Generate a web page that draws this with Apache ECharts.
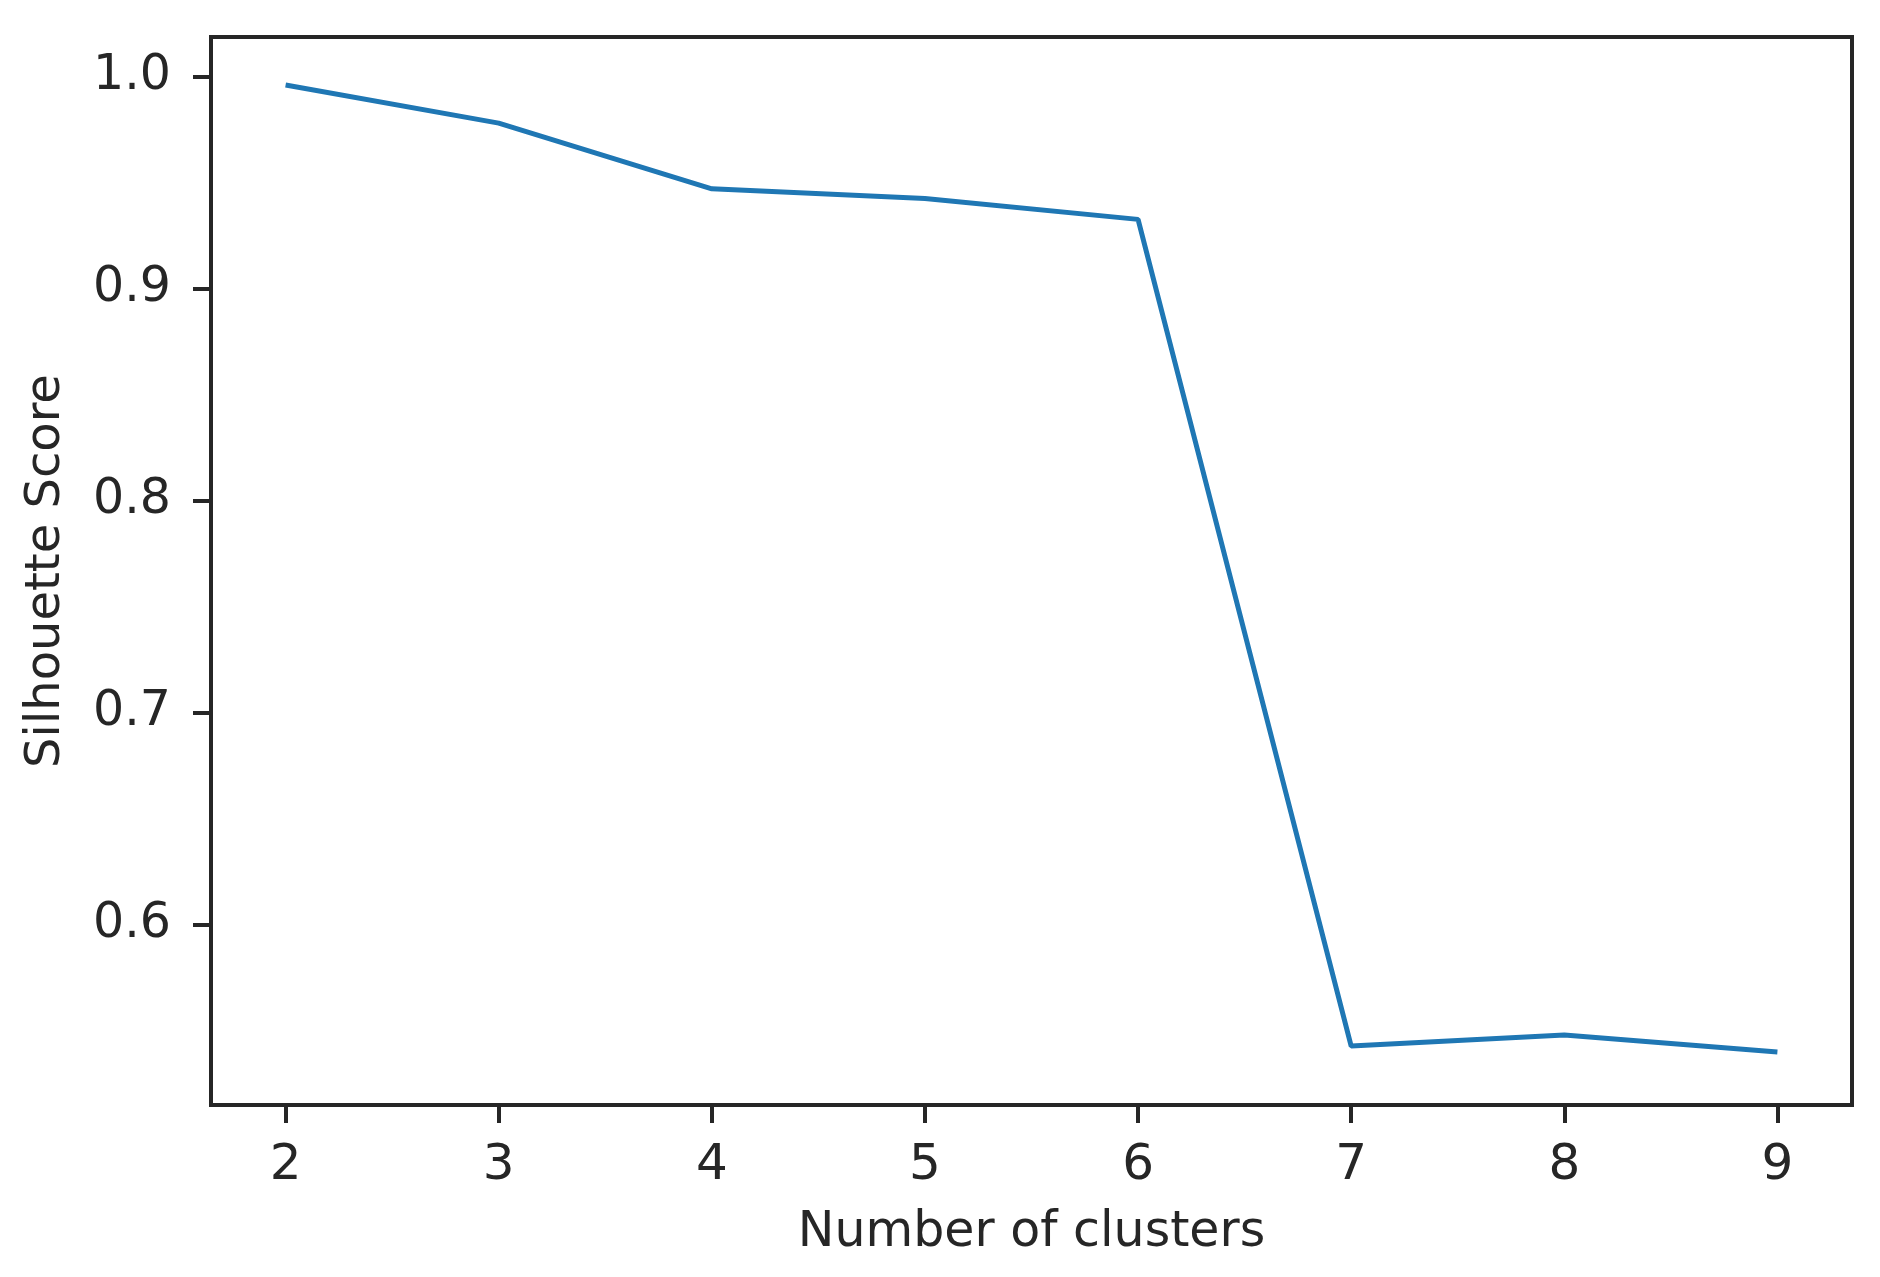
<!DOCTYPE html>
<html>
<head>
<meta charset="utf-8">
<script src="https://cdn.jsdelivr.net/npm/echarts@6/dist/echarts.min.js"></script>
<style>
  html, body { margin: 0; padding: 0; background: #fff; }
  #box1 { width: 1880px; height: 1277px; }
</style>
</head>
<body>
<div id="box1"></div>
<script>
var clusters = [2, 3, 4, 5, 6, 7, 8, 9];
var scores = [0.996, 0.978, 0.947, 0.9425, 0.9326, 0.5428, 0.548, 0.540];
var xTicks = [2, 3, 4, 5, 6, 7, 8, 9];
var yTicks = [0.6, 0.7, 0.8, 0.9, 1.0];

var points = clusters.map(function (c, i) { return [c, scores[i]]; });

var myChart1 = echarts.init(document.getElementById('box1'));
var textColor = '#262626';
var option = {
  backgroundColor: '#fff',
  animation: false,
  grid: {
    left: 211,
    right: 28,
    top: 37,
    bottom: 172,
    show: true,
    borderColor: '#262626',
    borderWidth: 4,
    backgroundColor: 'transparent'
  },
  xAxis: {
    type: 'value',
    min: 1.65,
    max: 9.35,
    name: 'Number of clusters',
    nameLocation: 'middle',
    nameGap: 104,
    nameTextStyle: { color: textColor, fontSize: 49, fontFamily: 'DejaVu Sans' },
    axisLine: { show: false },
    splitLine: { show: false },
    axisTick: {
      show: true,
      length: 18,
      lineStyle: { color: '#262626', width: 4 },
      customValues: xTicks
    },
    axisLabel: {
      color: textColor,
      fontSize: 50,
      fontFamily: 'DejaVu Sans',
      margin: 36,
      customValues: xTicks
    }
  },
  yAxis: {
    type: 'value',
    min: 0.515,
    max: 1.0186,
    name: 'Silhouette Score',
    nameLocation: 'middle',
    nameGap: 140,
    nameTextStyle: { color: textColor, fontSize: 48, fontFamily: 'DejaVu Sans' },
    axisLine: { show: false },
    splitLine: { show: false },
    axisTick: {
      show: true,
      length: 18,
      lineStyle: { color: '#262626', width: 4 },
      customValues: yTicks
    },
    axisLabel: {
      color: textColor,
      fontSize: 49,
      fontFamily: 'DejaVu Sans',
      margin: 40,
      customValues: yTicks,
      formatter: function (v) { return v.toFixed(1); }
    }
  },
  series: [{
    type: 'line',
    data: points,
    symbol: 'none',
    lineStyle: { color: '#1f77b4', width: 5 },
    itemStyle: { color: '#1f77b4' }
  }]
};

myChart1.setOption(option);
</script>
</body>
</html>
